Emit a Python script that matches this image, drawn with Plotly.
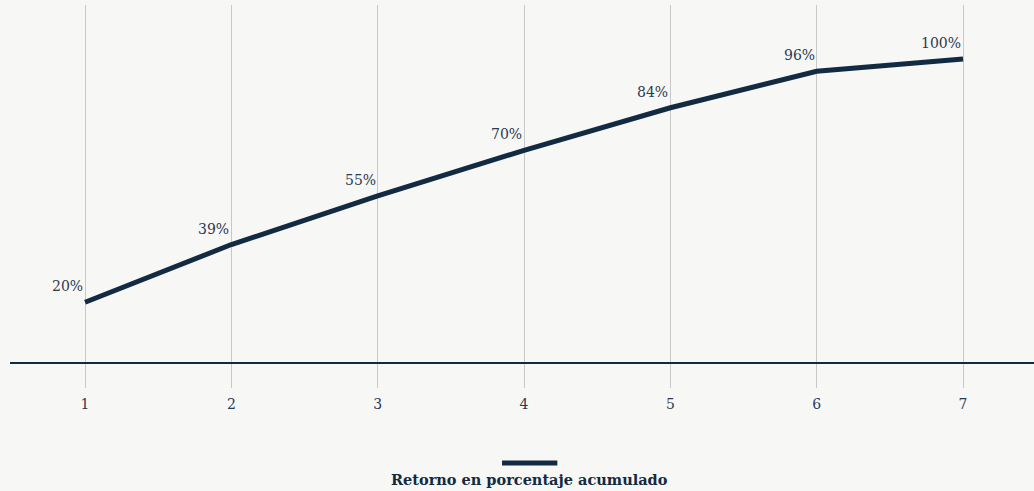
import plotly.graph_objects as go

years = [1, 2, 3, 4, 5, 6, 7]
returns = [20, 39, 55, 70, 84, 96, 100]
labels = [f"{v}%" for v in returns]
series_name = "Retorno en porcentaje acumulado"

navy = "#132a43"
label_color = "#2a3a50"
font_family = "DejaVu Serif"

fig = go.Figure()
fig.add_trace(go.Scatter(
    x=years, y=returns, mode="lines", name=series_name,
    line=dict(color=navy, width=5),
    showlegend=False, cliponaxis=False,
))

for xv, yv, lab in zip(years, returns, labels):
    fig.add_annotation(x=xv, y=yv, text=lab, showarrow=False,
                       xanchor="right", yanchor="bottom",
                       xshift=-1, yshift=7, borderpad=0,
                       font=dict(family=font_family, size=14, color=label_color))

fig.add_shape(type="line", xref="paper", yref="paper", x0=0.4805, x1=0.5345,
              y0=-0.196, y1=-0.196, line=dict(color=navy, width=5))
fig.add_annotation(text=f"<b>{series_name}</b>", xref="paper", yref="paper",
                   x=0.507, y=-0.212, showarrow=False, yanchor="top",
                   font=dict(family=font_family, size=14.5, color=navy))

fig.update_layout(
    width=1034, height=491,
    margin=dict(l=10, r=0, t=5, b=103),
    paper_bgcolor="#f7f7f5", plot_bgcolor="#f7f7f5",
    font=dict(family=font_family, size=14, color=label_color),
    xaxis=dict(range=[0.487, 7.485], tickvals=years, showgrid=True,
               gridcolor="#c8c8c8", gridwidth=1, zeroline=False,
               showline=False, ticks="", ticklabelstandoff=6,
               tickfont=dict(size=14)),
    yaxis=dict(range=[-8.2, 117.8], showgrid=False, showticklabels=False,
               zeroline=True, zerolinecolor=navy, zerolinewidth=2),
)

fig.write_html("out.html")
